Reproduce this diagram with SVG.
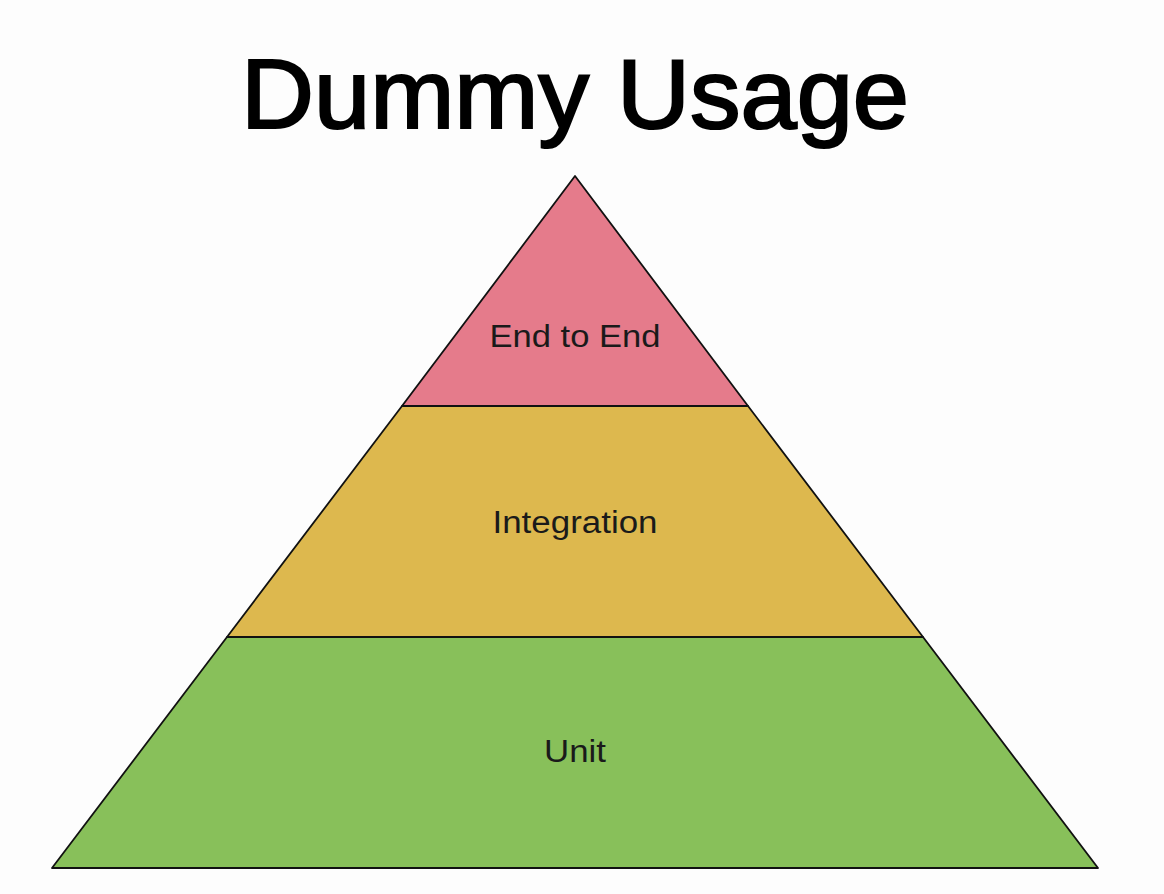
<svg xmlns="http://www.w3.org/2000/svg" width="1164" height="894" viewBox="0 0 1164 894">
<style>
.layer{stroke:#111;stroke-width:1.8;stroke-linejoin:round}
.lbl{font-family:"Liberation Sans",Arial,sans-serif;font-size:31px;fill:#1a1a1a;text-anchor:middle}
.title{font-family:"Liberation Sans",Arial,sans-serif;font-size:98px;fill:#000;stroke:#000;stroke-width:2.2;text-anchor:middle}
</style>
<rect width="1164" height="894" fill="#fdfdfd"/>
<text class="title" x="575" y="128" textLength="668" lengthAdjust="spacingAndGlyphs">Dummy Usage</text>
<g id="unit">
<polygon class="layer" points="227,637 923,637 1098,868 52,868" fill="#88c05a"/>
<text class="lbl" x="575" y="762" textLength="62" lengthAdjust="spacingAndGlyphs">Unit</text>
</g>
<g id="integration">
<polygon class="layer" points="402,406 748,406 923,637 227,637" fill="#ddb84e"/>
<text class="lbl" x="575" y="533" textLength="165" lengthAdjust="spacingAndGlyphs">Integration</text>
</g>
<g id="end-to-end">
<polygon class="layer" points="575,176 748,406 402,406" fill="#e57b8b"/>
<text class="lbl" x="575" y="347" textLength="171" lengthAdjust="spacingAndGlyphs">End to End</text>
</g>
<g id="connectors"></g>
</svg>
